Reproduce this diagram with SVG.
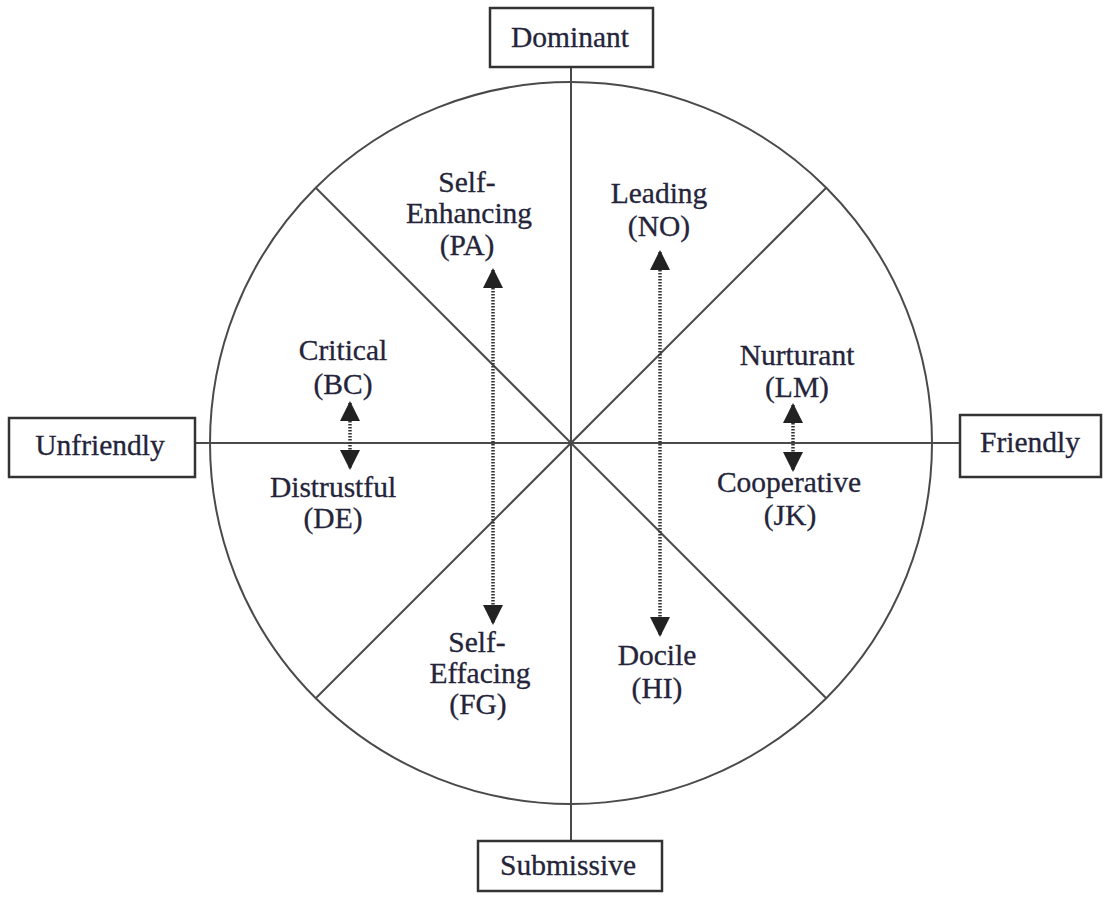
<svg xmlns="http://www.w3.org/2000/svg" width="1104" height="897" viewBox="0 0 1104 897">
  <defs>
    <style>
      .ln { stroke: #4a4a4a; stroke-width: 2; fill: none; }
      .box { stroke: #333; stroke-width: 2.5; fill: #fff; }
      .t { font-family: "Liberation Serif", "Times New Roman", serif; font-size: 29.5px; fill: #24243a; stroke: #24243a; stroke-width: 0.3; text-anchor: middle; }
      .arr { stroke: #333; stroke-width: 3.5; stroke-dasharray: 1.5 1.5; fill: none; }
    </style>
    <marker id="head" viewBox="0 0 10 10" refX="9" refY="5" markerWidth="20" markerHeight="20" markerUnits="userSpaceOnUse" orient="auto-start-reverse">
      <path d="M0,0 L10,5 L0,10 Z" fill="#222"/>
    </marker>
  </defs>
  <rect width="1104" height="897" fill="#fff"/>

  <!-- circumplex circle, axes and octant dividers -->
  <g id="connectors">
    <circle class="ln" cx="571" cy="443" r="361"/>
    <line class="ln" x1="571" y1="67" x2="571" y2="841"/>
    <line class="ln" x1="195" y1="443" x2="960" y2="443"/>
    <line class="ln" x1="316" y1="188" x2="826" y2="698"/>
    <line class="ln" x1="826" y1="188" x2="316" y2="698"/>
    <!-- complementary pairs -->
    <line class="arr" x1="350" y1="403" x2="350" y2="468" marker-start="url(#head)" marker-end="url(#head)"/>
    <line class="arr" x1="793" y1="405" x2="793" y2="470" marker-start="url(#head)" marker-end="url(#head)"/>
    <line class="arr" x1="493" y1="270" x2="493" y2="623" marker-start="url(#head)" marker-end="url(#head)"/>
    <line class="arr" x1="660" y1="252" x2="660" y2="635" marker-start="url(#head)" marker-end="url(#head)"/>
  </g>

  <g id="dominant">
    <rect class="box" x="490" y="8" width="163" height="59"/>
    <text class="t" x="570" y="47">Dominant</text>
  </g>
  <g id="submissive">
    <rect class="box" x="478" y="841" width="184" height="50"/>
    <text class="t" x="568" y="875">Submissive</text>
  </g>
  <g id="unfriendly">
    <rect class="box" x="9" y="418" width="186" height="59"/>
    <text class="t" x="100" y="455">Unfriendly</text>
  </g>
  <g id="friendly">
    <rect class="box" x="960" y="415" width="141" height="62"/>
    <text class="t" x="1030" y="452">Friendly</text>
  </g>

  <g id="self-enhancing">
    <text class="t" x="467" y="192">Self-</text>
    <text class="t" x="469" y="223">Enhancing</text>
    <text class="t" x="467" y="255">(PA)</text>
  </g>
  <g id="leading">
    <text class="t" x="659" y="203">Leading</text>
    <text class="t" x="659" y="236">(NO)</text>
  </g>
  <g id="critical">
    <text class="t" x="343" y="360">Critical</text>
    <text class="t" x="343" y="394">(BC)</text>
  </g>
  <g id="distrustful">
    <text class="t" x="333" y="497">Distrustful</text>
    <text class="t" x="333" y="528">(DE)</text>
  </g>
  <g id="nurturant">
    <text class="t" x="797" y="365">Nurturant</text>
    <text class="t" x="797" y="397">(LM)</text>
  </g>
  <g id="cooperative">
    <text class="t" x="789" y="492">Cooperative</text>
    <text class="t" x="790" y="525">(JK)</text>
  </g>
  <g id="self-effacing">
    <text class="t" x="477" y="652">Self-</text>
    <text class="t" x="480" y="683">Effacing</text>
    <text class="t" x="478" y="714">(FG)</text>
  </g>
  <g id="docile">
    <text class="t" x="657" y="665">Docile</text>
    <text class="t" x="657" y="698">(HI)</text>
  </g>
</svg>
